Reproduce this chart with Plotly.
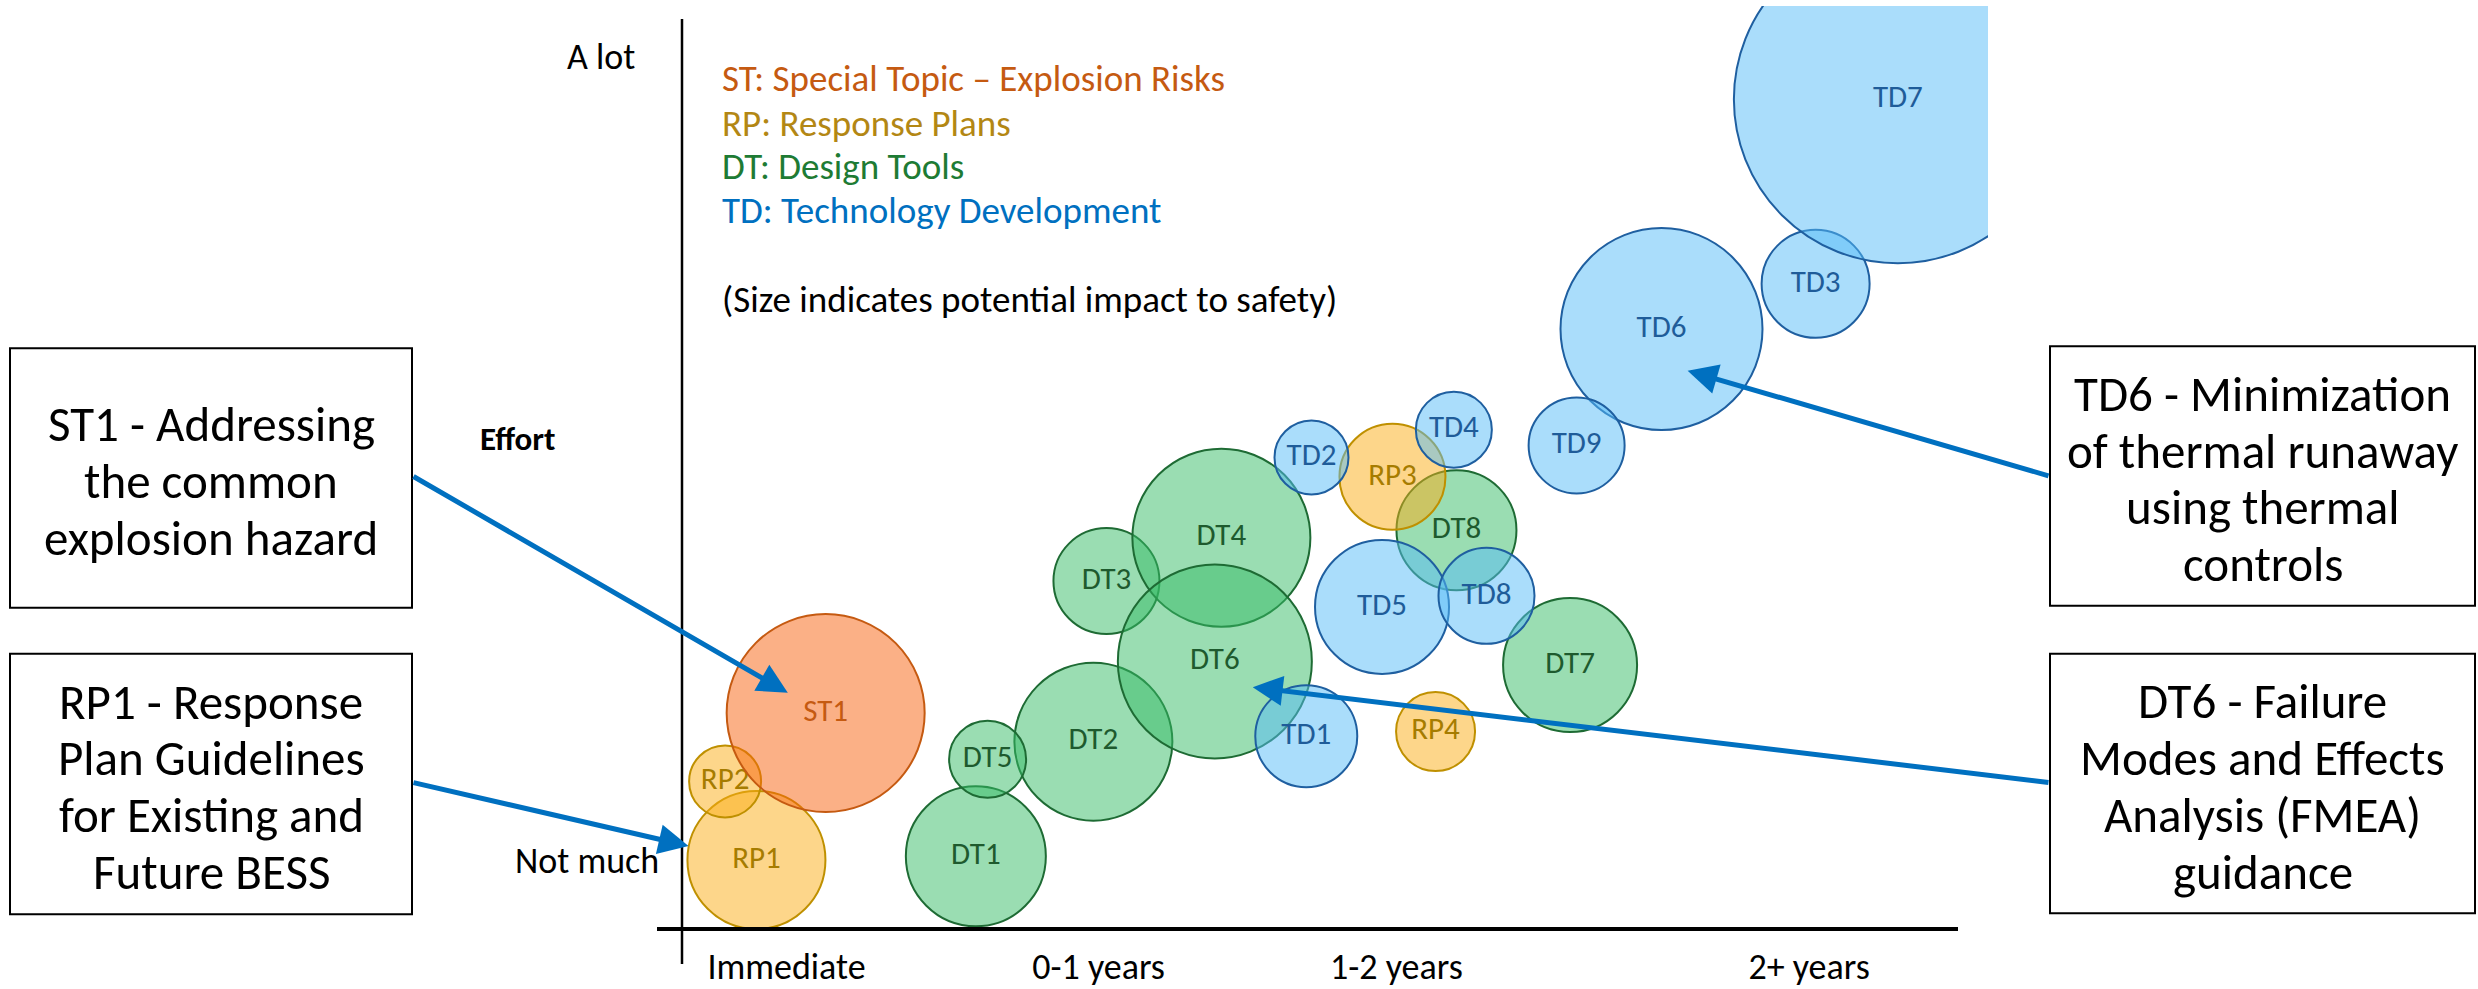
import plotly.graph_objects as go

W, H = 2478, 989
FONT = "Carlito, Calibri, Lato, sans-serif"

# ---------------- data ----------------
time_ticks = ["Immediate", "0-1 years", "1-2 years", "2+ years"]
time_tick_vals = [0.80, 3.19, 5.47, 8.63]

st_labels = ["ST1"]
st_time = [1.10]
st_effort = [2.34]
st_impact = [9.9]

rp_labels = ["RP1", "RP2", "RP3", "RP4"]
rp_time = [0.57, 0.33, 5.44, 5.77]
rp_effort = [0.75, 1.60, 4.90, 2.14]
rp_impact = [6.9, 3.6, 5.3, 3.95]

dt_labels = ["DT1", "DT2", "DT3", "DT4", "DT5", "DT6", "DT7", "DT8"]
dt_time = [2.25, 3.15, 3.25, 4.13, 2.34, 4.08, 6.80, 5.93]
dt_effort = [0.79, 2.03, 3.77, 4.24, 1.84, 2.90, 2.86, 4.32]
dt_impact = [7.0, 7.9, 5.3, 8.9, 3.85, 9.7, 6.7, 6.0]

td_labels = ["TD1", "TD2", "TD3", "TD4", "TD5", "TD6", "TD7", "TD8", "TD9"]
td_time = [4.78, 4.82, 8.68, 5.91, 5.36, 7.50, 9.31, 6.16, 6.85]
td_effort = [2.09, 5.11, 6.99, 5.41, 3.49, 6.50, 8.99, 3.61, 5.24]
td_impact = [5.1, 3.7, 5.4, 3.8, 6.7, 10.1, 16.4, 4.8, 4.8]

legend_lines = ["ST: Special Topic \u2013 Explosion Risks", "RP: Response Plans",
                "DT: Design Tools", "TD: Technology Development"]
size_note = "(Size indicates potential impact to safety)"

callout_lines = [
    ["ST1 - Addressing", "the common", "explosion hazard"],
    ["RP1 - Response", "Plan Guidelines", "for Existing and", "Future BESS"],
    ["TD6 - Minimization", "of thermal runaway", "using thermal", "controls"],
    ["DT6 - Failure", "Modes and Effects", "Analysis (FMEA)", "guidance"],
]
# arrow target (time, effort) for each callout
callout_targets = [(0.81, 2.56), (0.05, 0.90), (7.70, 6.05), (4.37, 2.62)]

# ---------------- styles ----------------
groups = [
    (dt_labels, dt_time, dt_effort, dt_impact, "rgba(53,187,101,0.5)", "#1E6B34", "#1E5A2E"),
    (rp_labels, rp_time, rp_effort, rp_impact, "rgba(251,173,21,0.5)", "#BF9000", "#A67C00"),
    (st_labels, st_time, st_effort, st_impact, "rgba(247,97,13,0.5)", "#C55A11", "#C55A11"),
    (td_labels, td_time, td_effort, td_impact, "rgba(85,187,247,0.5)", "#1F5FA0", "#1F5C99"),
]
legend_colors = ["#C55A11", "#B38714", "#1E7B34", "#0070C0"]

fig = go.Figure()
for labels, xs, ys, imp, fill, stroke, tcol in groups:
    fig.add_trace(go.Scatter(
        x=xs, y=ys, text=labels, mode="markers+text",
        textposition="middle center",
        textfont=dict(family=FONT, size=31, color=tcol),
        marker=dict(size=imp, sizemode="diameter", sizeref=0.05,
                    color=fill, line=dict(color=stroke, width=2), opacity=1),
        hoverinfo="text", showlegend=False, cliponaxis=True,
    ))

x0p, x1p = 682 / W, 1988 / W
y0p, y1p = 1 - 931 / H, 1 - 6 / H

fig.update_layout(
    width=W, height=H,
    margin=dict(l=0, r=0, t=0, b=0),
    paper_bgcolor="white", plot_bgcolor="white",
    showlegend=False,
    xaxis=dict(domain=[x0p, x1p], range=[0, 10], showgrid=False, zeroline=False,
               showline=False, ticks="", tickvals=time_tick_vals, ticktext=time_ticks,
               tickfont=dict(family=FONT, size=36, color="black"),
               ticklabelstandoff=13, fixedrange=True),
    yaxis=dict(domain=[y0p, y1p], range=[0, 10], showgrid=False, zeroline=False,
               showline=False, showticklabels=False, ticks="", fixedrange=True),
)

# axis lines
fig.add_shape(type="line", xref="paper", yref="paper",
              x0=682 / W, x1=682 / W, y0=1 - 19 / H, y1=1 - 966 / H,
              line=dict(color="black", width=2.5))
fig.add_shape(type="line", xref="paper", yref="paper",
              x0=657 / W, x1=1958 / W, y0=1 - 931 / H, y1=1 - 931 / H,
              line=dict(color="black", width=4))

# y axis labels
fig.add_annotation(text="A lot", xref="paper", yref="paper", x=637 / W, y=1 - 57 / H,
                   xanchor="right", yanchor="middle", showarrow=False,
                   font=dict(family=FONT, size=36, color="black"))
fig.add_annotation(text="<b>Effort</b>", xref="paper", yref="paper", x=517 / W, y=1 - 440 / H,
                   xanchor="center", yanchor="middle", showarrow=False,
                   font=dict(family=FONT, size=33, color="black"))
fig.add_annotation(text="Not much", xref="paper", yref="paper", x=661 / W, y=1 - 863 / H,
                   xanchor="right", yanchor="middle", showarrow=False,
                   font=dict(family=FONT, size=36, color="black"))

# legend text
for i, (t, c) in enumerate(zip(legend_lines, legend_colors)):
    fig.add_annotation(text=t, xref="paper", yref="paper", x=720 / W,
                       y=1 - [79, 124, 167, 211][i] / H, xanchor="left", yanchor="middle",
                       showarrow=False, font=dict(family=FONT, size=37, color=c))
fig.add_annotation(text=size_note, xref="paper", yref="paper", x=720 / W, y=1 - 300 / H,
                   xanchor="left", yanchor="middle", showarrow=False,
                   font=dict(family=FONT, size=37, color="black"))

# callout boxes and arrows
box_geo = [  # left, right, top, bottom (px), arrow start (px)
    (10, 412, 349, 609, 412, 477),
    (10, 412, 655, 916, 412, 784),
    (2050, 2475, 347, 607, 2050, 477),
    (2050, 2475, 655, 915, 2050, 784),
]
LINE_H = 57
for lines, (tx, ty), (l, r, t, b, sx, sy) in zip(callout_lines, callout_targets, box_geo):
    fig.add_shape(type="rect", xref="paper", yref="paper",
                  x0=l / W, x1=r / W, y0=1 - t / H, y1=1 - b / H,
                  line=dict(color="black", width=2), fillcolor="white")
    cx = (l + r) / 2
    cy = (t + b) / 2 + 3
    n = len(lines)
    for i, line in enumerate(lines):
        yy = cy + (i - (n - 1) / 2) * LINE_H
        fig.add_annotation(text=line, xref="paper", yref="paper", x=cx / W, y=1 - yy / H,
                           xanchor="center", yanchor="middle", showarrow=False,
                           font=dict(family=FONT, size=49, color="black"))
    px = 682 + tx * 130.6
    py = 931 - ty * 92.5
    fig.add_annotation(text="", x=tx, y=ty, xref="x", yref="y",
                       ax=sx - px, ay=sy - py, axref="pixel", ayref="pixel",
                       showarrow=True, arrowhead=2, arrowsize=1.2, arrowwidth=5,
                       arrowcolor="#0070C0", standoff=0, startstandoff=0)

fig.write_html("out.html", config={"displayModeBar": False},
               post_script="document.body.style.margin='0';document.body.style.overflow='hidden';")
